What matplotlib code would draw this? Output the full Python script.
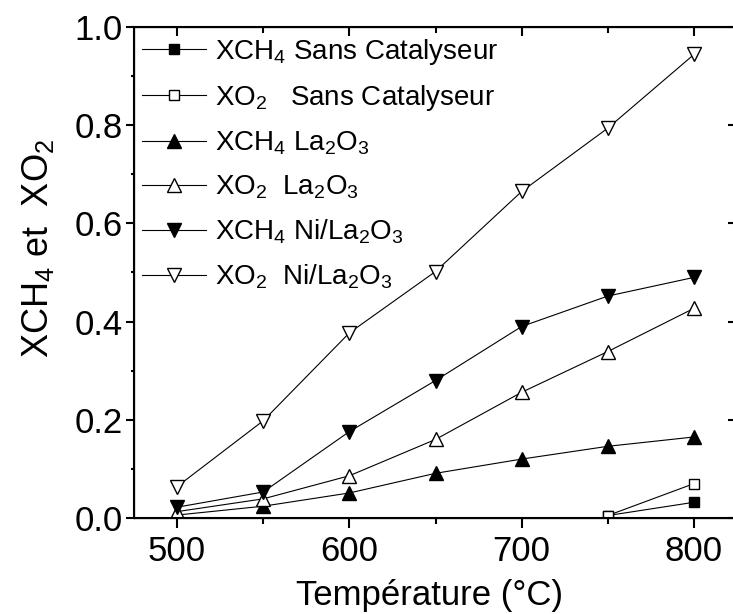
import matplotlib
matplotlib.use("Agg")
import matplotlib.pyplot as plt
from matplotlib.ticker import MultipleLocator

plt.rcParams['font.family'] = ['Liberation Sans', 'DejaVu Sans']
plt.rcParams['mathtext.fontset'] = 'custom'
plt.rcParams['mathtext.rm'] = 'Liberation Sans'
plt.rcParams['mathtext.it'] = 'Liberation Sans:italic'
plt.rcParams['mathtext.bf'] = 'Liberation Sans:bold'

# data
temp = [500, 550, 600, 650, 700, 750, 800]
temp_sans = [750, 800]

xch4_sans = [0.005, 0.032]
xo2_sans = [0.005, 0.07]
xch4_la = [0.006, 0.024, 0.051, 0.091, 0.12, 0.146, 0.165]
xo2_la = [0.013, 0.039, 0.086, 0.16, 0.256, 0.339, 0.427]
xch4_ni = [0.022, 0.053, 0.176, 0.28, 0.39, 0.452, 0.49]
xo2_ni = [0.064, 0.198, 0.377, 0.502, 0.665, 0.794, 0.944]

labels = [r'XCH$_4$ Sans Catalyseur',
          r'XO$_2$   Sans Catalyseur',
          r'XCH$_4$ La$_2$O$_3$',
          r'XO$_2$  La$_2$O$_3$',
          r'XCH$_4$ Ni/La$_2$O$_3$',
          r'XO$_2$  Ni/La$_2$O$_3$']

fig = plt.figure(figsize=(7.33, 6.14), dpi=100)
# axes runs a little past the right edge, like the cropped original
ax = fig.add_axes([134 / 733, 96 / 614, 603 / 733, 491 / 614])

series = [
    (temp_sans, xch4_sans, 's', 'black', 7),
    (temp_sans, xo2_sans, 's', 'white', 7),
    (temp, xch4_la, '^', 'black', 10.5),
    (temp, xo2_la, '^', 'white', 10.5),
    (temp, xch4_ni, 'v', 'black', 10.5),
    (temp, xo2_ni, 'v', 'white', 10.5),
]
for (x, y, m, fc, ms), lab in zip(series, labels):
    ax.plot(x, y, color='black', lw=0.8, marker=m, ms=ms, mfc=fc,
            mec='black', mew=1.0, label=lab)

ax.set_xlim(475, 825)
ax.set_ylim(0, 1.0)
ax.xaxis.set_major_locator(MultipleLocator(100))
ax.xaxis.set_minor_locator(MultipleLocator(50))
ax.yaxis.set_major_locator(MultipleLocator(0.2))
ax.yaxis.set_minor_locator(MultipleLocator(0.1))
ax.yaxis.set_major_formatter(plt.FormatStrFormatter('%.1f'))

ax.tick_params(axis='both', which='major', direction='out', width=1.5,
               labelsize=25)
ax.tick_params(axis='x', which='major', length=7, pad=5)
ax.tick_params(axis='y', which='major', length=6, pad=2)
ax.tick_params(axis='x', which='minor', direction='out', length=4, width=1.5)
ax.tick_params(axis='y', which='minor', direction='out', length=2.5, width=1.5)
for s in ax.spines.values():
    s.set_linewidth(1.5)

# top axis, inward ticks
top = ax.twiny()
top.set_xlim(ax.get_xlim())
top.xaxis.set_major_locator(MultipleLocator(100))
top.xaxis.set_minor_locator(MultipleLocator(50))
top.tick_params(axis='x', which='major', direction='in', length=6.5, width=1.5,
                labeltop=False)
top.tick_params(axis='x', which='minor', direction='in', length=4, width=1.5)

# right axis, inward ticks
right = ax.twinx()
right.set_ylim(0, 1.0)
right.yaxis.set_major_locator(MultipleLocator(0.2))
right.tick_params(axis='y', which='major', direction='in', length=6.5, width=1.5,
                  labelright=False)
right.tick_params(axis='y', which='minor', length=0)

ax.set_xlabel('Température (°C)', fontsize=25)
ax.xaxis.set_label_coords(0.49, -0.125)
ax.set_ylabel(r'XCH$_4$ et  XO$_2$', fontsize=26)
ax.yaxis.set_label_coords(-0.13, 0.55)

leg = ax.legend(loc='upper left', bbox_to_anchor=(0.014, 0.98),
                bbox_transform=ax.transAxes, frameon=False, fontsize=20,
                borderpad=0, borderaxespad=0, handlelength=2.3,
                handletextpad=0.3, labelspacing=0.59)

fig.savefig('out.png', dpi=100)
